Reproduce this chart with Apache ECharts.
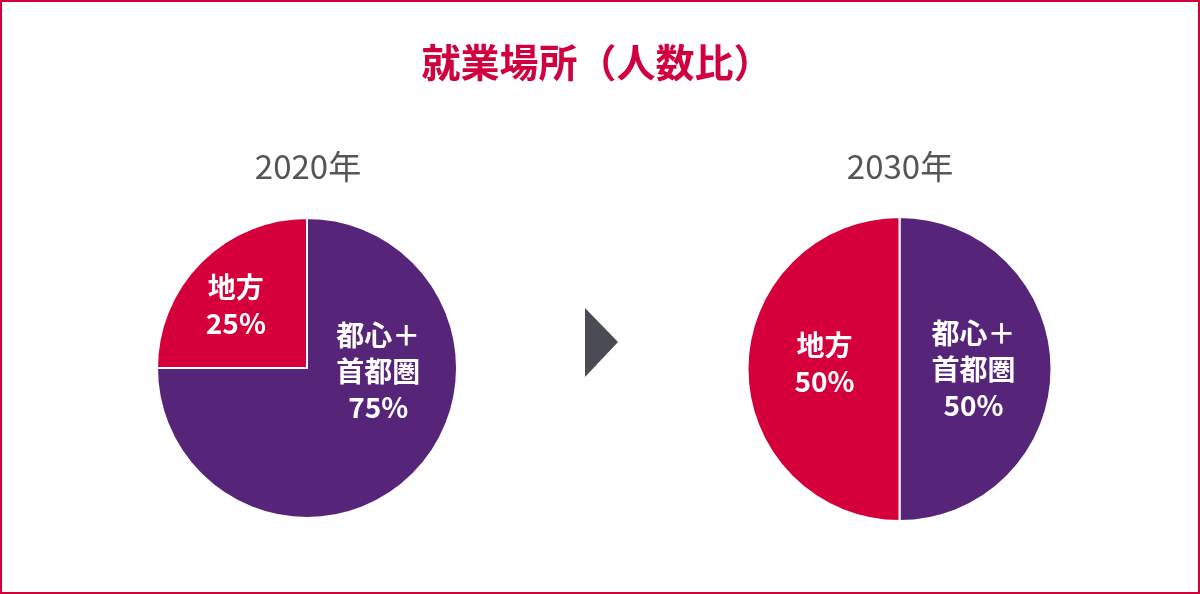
<!DOCTYPE html>
<html>
<head>
	<meta charset="utf-8">
	<title>就業場所（人数比）</title>
	<script src="https://cdn.jsdelivr.net/npm/echarts@6/dist/echarts.min.js"></script>
	<style>
		html, body { margin: 0; padding: 0; background: #fff; }
		#main { width: 1200px; height: 594px; }
	</style>
</head>
<body>
<div id="main"></div>
<script>
// データ
var regions = ['都心＋\n首都圏', '地方'];
var share2020 = [75, 25];
var share2030 = [50, 50];
var years = ['2020年', '2030年'];

var purple = '#562479';
var red = '#d5003b';
var font = 'Noto Sans CJK JP';

// ラベル位置の微調整（都心, 地方）
var offsets2020 = [[16, -52], [-16, -7]];
var offsets2030 = [[-5, 0], [4, -6]];

function pieData(values, offsets) {
	return regions.map(function(name, i) {
		return {
			name: name,
			value: values[i],
			itemStyle: { color: i === 0 ? purple : red },
			label: { offset: offsets[i] }
		};
	});
}

function pieSeries(values, center, r, offsets) {
	return {
		type: 'pie',
		radius: r,
		center: center,
		startAngle: 90,
		clockwise: true,
		silent: true,
		animation: false,
		itemStyle: { borderColor: '#fff', borderWidth: 2 },
		label: {
			position: 'inside',
			formatter: '{b}\n{c}%',
			color: '#fff',
			fontFamily: font,
			fontWeight: 'bold',
			fontSize: 28,
			lineHeight: 36
		},
		labelLine: { show: false },
		data: pieData(values, offsets)
	};
}

var myChart = echarts.init(document.getElementById('main'));

var option = {
	backgroundColor: '#fff',
	title: [
		{
			text: '就業場所（人数比）',
			left: 592,
			top: 38,
			textAlign: 'center',
			textStyle: { color: '#d1003f', fontFamily: font, fontWeight: 'bold', fontSize: 39 }
		},
		{
			text: years[0],
			left: 303,
			top: 145,
			textAlign: 'center',
			textStyle: { color: '#555', fontFamily: font, fontWeight: 'normal', fontSize: 33 }
		},
		{
			text: years[1],
			left: 895,
			top: 145,
			textAlign: 'center',
			textStyle: { color: '#555', fontFamily: font, fontWeight: 'normal', fontSize: 33 }
		}
	],
	graphic: [
		{
			type: 'rect',
			shape: { x: 1, y: 1, width: 1198, height: 592 },
			style: { fill: 'none', stroke: '#d5003b', lineWidth: 2 },
			silent: true
		},
		{
			type: 'polygon',
			shape: { points: [[585, 308], [618, 342], [585, 377]] },
			style: { fill: '#4b4b55' },
			silent: true
		}
	],
	series: [
		pieSeries(share2020, [307, 368], 150, offsets2020),
		pieSeries(share2030, [899.5, 369], 152, offsets2030)
	]
};

myChart.setOption(option);
</script>
</body>
</html>
